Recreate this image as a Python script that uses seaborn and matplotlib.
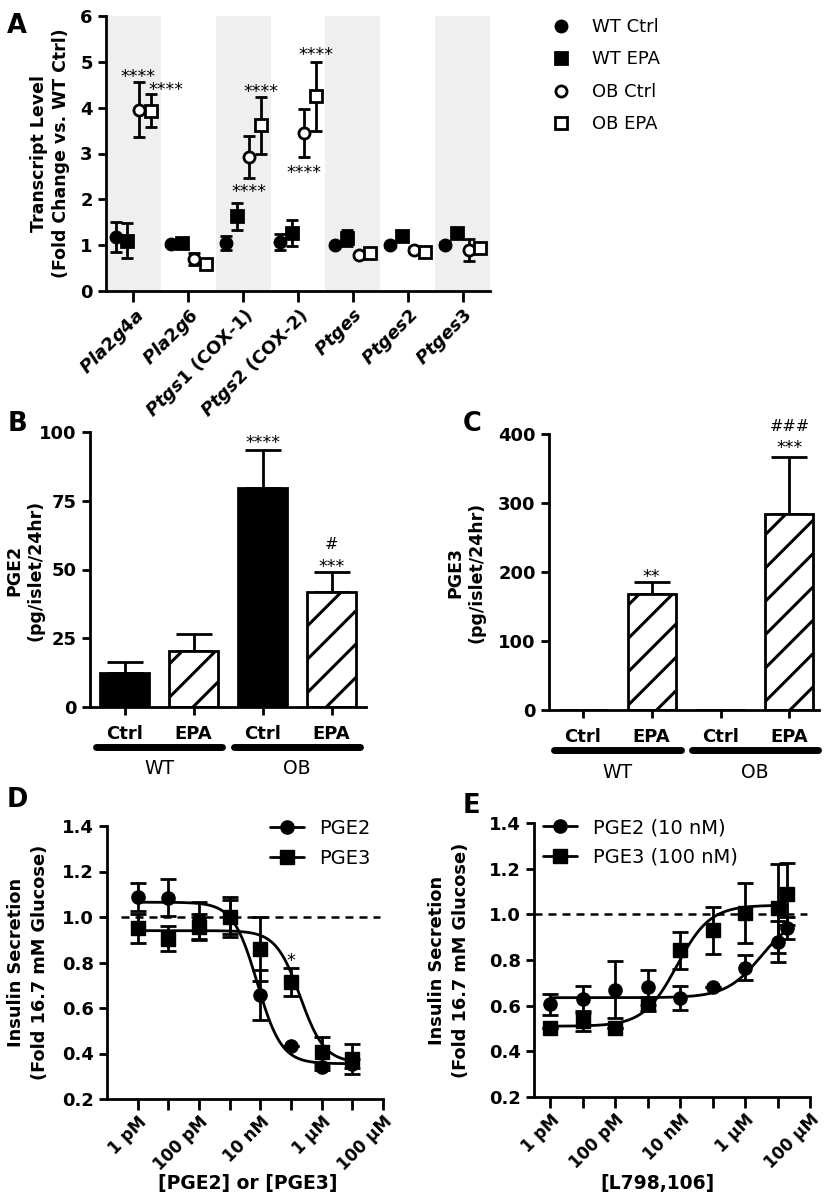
import matplotlib
matplotlib.use("Agg")
import matplotlib.pyplot as plt
from matplotlib.lines import Line2D
import numpy as np
import pandas as pd
import seaborn as sns

W, H = 827, 1201
BLACK = "#000000"
WHITE = "#FFFFFF"
BAND = "#efefef"

# ---- panel A: transcript levels ----
genes = ["Pla2g4a", "Pla2g6", "Ptgs1", "Ptgs2", "Ptges", "Ptges2", "Ptges3"]
gene_notes = ["", "", " (COX-1)", " (COX-2)", "", "", ""]
a_groups = ["WT Ctrl", "WT EPA", "OB Ctrl", "OB EPA"]
wt_ctrl_mean = [1.18, 1.02, 1.05, 1.07, 1.00, 1.00, 1.01]
wt_ctrl_sem = [0.33, 0.03, 0.15, 0.18, 0.05, 0.03, 0.06]
wt_epa_mean = [1.10, 1.05, 1.63, 1.27, 1.16, 1.19, 1.26]
wt_epa_sem = [0.38, 0.05, 0.30, 0.29, 0.17, 0.07, 0.08]
ob_ctrl_mean = [3.95, 0.70, 2.92, 3.45, 0.79, 0.90, 0.90]
ob_ctrl_sem = [0.60, 0.14, 0.46, 0.53, 0.04, 0.05, 0.24]
ob_epa_mean = [3.93, 0.60, 3.62, 4.25, 0.82, 0.86, 0.94]
ob_epa_sem = [0.36, 0.06, 0.62, 0.75, 0.05, 0.06, 0.10]
# (gene index, x shift, y of star centre, text)
a_marks = [(0, 0.09, 4.78, "****"), (0, 0.60, 4.50, "****"),
           (2, 0.33, 4.45, "****"), (2, 0.10, 2.28, "****"),
           (3, 0.33, 5.25, "****"), (3, 0.10, 2.68, "****")]

# ---- panels B and C: PGE2 / PGE3 production ----
bar_groups = ["WT Ctrl", "WT EPA", "OB Ctrl", "OB EPA"]
bar_treat = ["Ctrl", "EPA", "Ctrl", "EPA"]
bar_strain = ["WT", "OB"]
pge2_mean = [12.3, 20.3, 79.5, 41.8]
pge2_sem = [4.0, 6.2, 14.0, 7.3]
pge2_marks = [(2, 98.0, "****"), (3, 52.7, "***"), (3, 59.6, "#")]
pge3_mean = [0.0, 168.0, 0.0, 284.0]
pge3_sem = [0.0, 17.0, 0.0, 83.0]
pge3_marks = [(1, 200.0, "**"), (3, 387.0, "***"), (3, 413.0, "###")]

# ---- panel D: dose response ----
d_conc = [1e-12, 1e-11, 1e-10, 1e-9, 1e-8, 1e-7, 1e-6, 1e-5]
d_pge2_mean = [1.088, 1.085, 0.985, 1.00, 0.658, 0.431, 0.340, 0.355]
d_pge2_sem = [0.062, 0.080, 0.080, 0.075, 0.110, 0.0, 0.012, 0.020]
d_pge3_mean = [0.950, 0.905, 0.956, 1.00, 0.860, 0.714, 0.406, 0.377]
d_pge3_sem = [0.065, 0.055, 0.055, 0.090, 0.140, 0.062, 0.066, 0.066]
# fitted four-parameter curves: top, bottom, logEC50, hill
d_pge2_fit = (1.065, 0.355, -8.1, -1.1)
d_pge3_fit = (0.94, 0.36, -6.7, -1.1)
d_marks = [(1e-7, 0.83, "*")]

# ---- panel E: antagonist ----
e_conc = [1e-12, 1e-11, 1e-10, 1e-9, 1e-8, 1e-7, 1e-6, 1e-5, 2e-5]
e_pge2_mean = [0.606, 0.628, 0.669, 0.680, 0.635, 0.680, 0.766, 0.880, 0.940]
e_pge2_sem = [0.045, 0.060, 0.125, 0.075, 0.052, 0.0, 0.054, 0.090, 0.047]
e_pge3_mean = [0.504, 0.533, 0.504, 0.606, 0.842, 0.930, 1.007, 1.026, 1.088]
e_pge3_sem = [0.0, 0.043, 0.0, 0.030, 0.080, 0.102, 0.132, 0.194, 0.135]
e_pge2_fit = (1.0, 0.635, -5.5, 0.8)
e_pge3_fit = (1.04, 0.51, -8.1, 0.85)

conc_ticks = [1e-12, 1e-11, 1e-10, 1e-9, 1e-8, 1e-7, 1e-6, 1e-5, 1e-4]
conc_labels = ["1 pM", "", "100 pM", "", "10 nM", "", "1 µM", "", "100 µM"]

sns.set_theme(style="ticks")
plt.rcParams.update({
    "font.family": ["DejaVu Sans"],
    "font.weight": "bold",
    "text.color": BLACK,
    "axes.labelcolor": BLACK,
    "mathtext.fontset": "custom",
    "mathtext.it": "DejaVu Sans:italic:bold",
    "mathtext.rm": "DejaVu Sans:bold",
    "mathtext.bf": "DejaVu Sans:bold",
    "hatch.linewidth": 2.2,
    "axes.linewidth": 2,
    "xtick.major.width": 2,
    "ytick.major.width": 2,
    "xtick.major.size": 6,
    "ytick.major.size": 6,
    "xtick.color": BLACK,
    "ytick.color": BLACK,
    "xtick.labelcolor": BLACK,
    "ytick.labelcolor": BLACK,
    "axes.edgecolor": BLACK,
    "legend.labelcolor": BLACK,
})

fig = plt.figure(figsize=(W / 100, H / 100), dpi=100)


def add_ax(l, t, r, b):
    return fig.add_axes([l / W, 1 - b / H, (r - l) / W, (b - t) / H])


def fx(px):
    return px / W


def fy(py):
    return 1 - py / H


def style(ax):
    sns.despine(ax=ax)
    ax.tick_params(axis="both", labelsize=13, direction="out", colors=BLACK)
    for lab in ax.get_xticklabels() + ax.get_yticklabels():
        lab.set_fontweight("bold")
    ax.set_xlabel("")
    ax.set_ylabel("")


def mark(ax, x, y, s, size=12.5):
    # y is the visual centre of the glyphs
    if "#" in s:
        size = 11.5
    off = -0.58 * size if "*" in s else -0.36 * size
    ax.annotate(s, (x, y), xytext=(0, off), textcoords="offset points",
                ha="center", va="baseline", fontsize=size, fontweight="normal",
                annotation_clip=False, color=BLACK)


def letter(px, py, s):
    fig.text(fx(px), fy(py), s, ha="center", va="center", fontsize=18.5, fontweight="bold")


def ylab(px, py, s, size=12.5, ls=1.25):
    fig.text(fx(px), fy(py), s, rotation=90, ha="center", va="center",
             fontsize=size, fontweight="bold", multialignment="center", linespacing=ls)


# ================= A =================
axA = add_ax(106, 16, 490, 291)
x = np.arange(len(genes))
for i in range(0, len(genes), 2):
    axA.axvspan(i - 0.5, i + 0.5, color=BAND, lw=0, zorder=0)
series = [(wt_ctrl_mean, wt_ctrl_sem, "o", BLACK, -0.32),
          (wt_epa_mean, wt_epa_sem, "s", BLACK, -0.11),
          (ob_ctrl_mean, ob_ctrl_sem, "o", WHITE, 0.11),
          (ob_epa_mean, ob_epa_sem, "s", WHITE, 0.32)]
handles = []
for (m, e, mk, fc, off), name in zip(series, a_groups):
    axA.errorbar(x + off, m, yerr=e, fmt=mk, ms=8, mfc=fc, mec=BLACK, mew=2,
                 ecolor=BLACK, elinewidth=2, capsize=4, capthick=2, zorder=3)
    handles.append(Line2D([], [], ls="none", marker=mk, ms=8, mfc=fc, mec=BLACK, mew=2, label=name))
for gi, dx, yy, s in a_marks:
    mark(axA, gi + dx, yy, s)
axA.set_xlim(-0.5, len(genes) - 0.5)
axA.set_ylim(0, 6)
axA.set_yticks(range(0, 7))
axA.set_xticks(x)
axA.set_xticklabels([f"$\\mathit{{{g}}}${n}" for g, n in zip(genes, gene_notes)],
                    rotation=45, ha="right", rotation_mode="anchor")
style(axA)
axA.tick_params(axis="x", length=8, labelsize=13, pad=2)
fig.legend(handles=handles, loc="upper left", bbox_to_anchor=(fx(550), fy(18)),
           frameon=False, prop={"size": 13, "weight": "normal"},
           handlelength=1.2, handletextpad=1.1, labelspacing=0.8, borderaxespad=0, borderpad=0)
ylab(50, 153, "Transcript Level\n(Fold Change vs. WT Ctrl)")
letter(17, 26, "A")


# ================= B / C =================
def bar_panel(ax, means, sems, marks, ymax, ystep, xlim):
    df = pd.DataFrame({"group": bar_groups, "value": means})
    sns.barplot(data=df, x="group", y="value", color=BLACK, saturation=1,
                width=0.7, errorbar=None, ax=ax, zorder=2)
    for patch, tr in zip(ax.patches, bar_treat):
        patch.set_edgecolor(BLACK)
        patch.set_linewidth(2)
        if tr == "EPA":
            patch.set_facecolor(WHITE)
            patch.set_hatch("/")
        else:
            patch.set_facecolor(BLACK)
    xs = np.arange(len(means))
    keep = np.array(sems) > 0
    ax.errorbar(xs[keep], np.array(means)[keep],
                yerr=[np.zeros(keep.sum()), np.array(sems)[keep]],
                fmt="none", ecolor=BLACK, elinewidth=2, capsize=13, capthick=2, zorder=1)
    for gi, yy, s in marks:
        mark(ax, gi, yy, s)
    ax.set_ylim(0, ymax)
    ax.set_yticks(np.arange(0, ymax + 1, ystep))
    ax.set_xlim(*xlim)
    ax.set_xticks(xs)
    ax.set_xticklabels(bar_treat)
    style(ax)
    ax.tick_params(axis="x", labelsize=13, pad=7)
    tr = ax.get_xaxis_transform()
    for k, strain in enumerate(bar_strain):
        c = 2 * k + 0.5
        ax.plot([c - 0.92, c + 0.92], [-0.145, -0.145], transform=tr, color=BLACK,
                lw=5, solid_capstyle="round", clip_on=False)
        ax.text(c, -0.225, strain, transform=tr, ha="center", va="center",
                fontsize=13.5, fontweight="normal")


axB = add_ax(90, 432, 366, 707)
bar_panel(axB, pge2_mean, pge2_sem, pge2_marks, 100, 25, (-0.5, 3.5))
ylab(25, 570, "PGE2\n(pg/islet/24hr)")
letter(17, 424, "B")

axC = add_ax(549, 434, 819, 710)
bar_panel(axC, pge3_mean, pge3_sem, pge3_marks, 400, 100, (-0.49, 3.43))
ylab(466, 572, "PGE3\n(pg/islet/24hr)")
letter(472, 424, "C")


# ================= D / E =================
def fit_curve(params, lo, hi):
    top, bottom, logec, hill = params
    xx = np.logspace(np.log10(lo), np.log10(hi), 200)
    yy = bottom + (top - bottom) / (1 + 10 ** ((logec - np.log10(xx)) * hill))
    return xx, yy


def dose_panel(ax, conc, sets, xlim, legend_xy, names, dash_from=0.0):
    hs = []
    for (m, e, fit, mk), name in zip(sets, names):
        xx, yy = fit_curve(fit, conc[0], conc[-1])
        sns.lineplot(x=xx, y=yy, color=BLACK, lw=2, ax=ax, zorder=2)
        e_arr = np.array(e, dtype=float)
        ax.errorbar(conc, m, yerr=e_arr, fmt=mk, ms=9.5, mfc=BLACK, mec=BLACK,
                    ecolor=BLACK, elinewidth=2, capsize=5.5, capthick=2, zorder=3)
        hs.append(Line2D([], [], color=BLACK, lw=2, marker=mk, ms=9.5, label=name))
    ax.axhline(1.0, xmin=dash_from, xmax=0.99, color=BLACK, lw=1.8, ls=(0, (3.2, 2.4)), zorder=1)
    ax.set_xscale("log")
    ax.set_xlim(*xlim)
    ax.set_ylim(0.2, 1.4)
    ax.set_yticks(np.arange(0.2, 1.41, 0.2))
    ax.set_yticklabels([f"{v:.1f}" for v in np.arange(0.2, 1.41, 0.2)])
    ax.set_xticks(conc_ticks)
    ax.set_xticklabels(conc_labels, rotation=45, ha="right", rotation_mode="anchor")
    ax.xaxis.set_minor_locator(matplotlib.ticker.NullLocator())
    style(ax)
    ax.tick_params(axis="x", length=8, pad=2, labelsize=12)
    ax.legend(handles=hs, loc="upper left", bbox_to_anchor=legend_xy, bbox_transform=fig.transFigure,
              frameon=False, prop={"size": 14, "weight": "normal"}, handlelength=1.75,
              handletextpad=0.8, labelspacing=0.55, borderaxespad=0, borderpad=0)


axD = add_ax(107, 826, 383, 1099)
dose_panel(axD, d_conc,
           [(d_pge2_mean, d_pge2_sem, d_pge2_fit, "o"), (d_pge3_mean, d_pge3_sem, d_pge3_fit, "s")],
           (1e-13, 1e-4), (fx(270), fy(819)), ["PGE2", "PGE3"], dash_from=0.05)
for xx, yy, s in d_marks:
    mark(axD, xx, yy, s)
fig.text(fx(248), fy(1184), "[PGE2] or [PGE3]", ha="center", va="center", fontsize=13.5, fontweight="bold")
ylab(28, 962, "Insulin Secretion\n(Fold 16.7 mM Glucose)", size=12.8, ls=1.45)
letter(17, 800, "D")

axE = add_ax(534, 823, 810, 1097)
dose_panel(axE, e_conc,
           [(e_pge2_mean, e_pge2_sem, e_pge2_fit, "o"), (e_pge3_mean, e_pge3_sem, e_pge3_fit, "s")],
           (10 ** -12.5, 1e-4), (fx(543), fy(818)), ["PGE2 (10 nM)", "PGE3 (100 nM)"])
fig.text(fx(658), fy(1184), "[L798,106]", ha="center", va="center", fontsize=13.5, fontweight="bold")
ylab(449, 960, "Insulin Secretion\n(Fold 16.7 mM Glucose)", size=12.8, ls=1.45)
letter(471, 806, "E")

fig.savefig("out.png", dpi=100, facecolor=WHITE)
